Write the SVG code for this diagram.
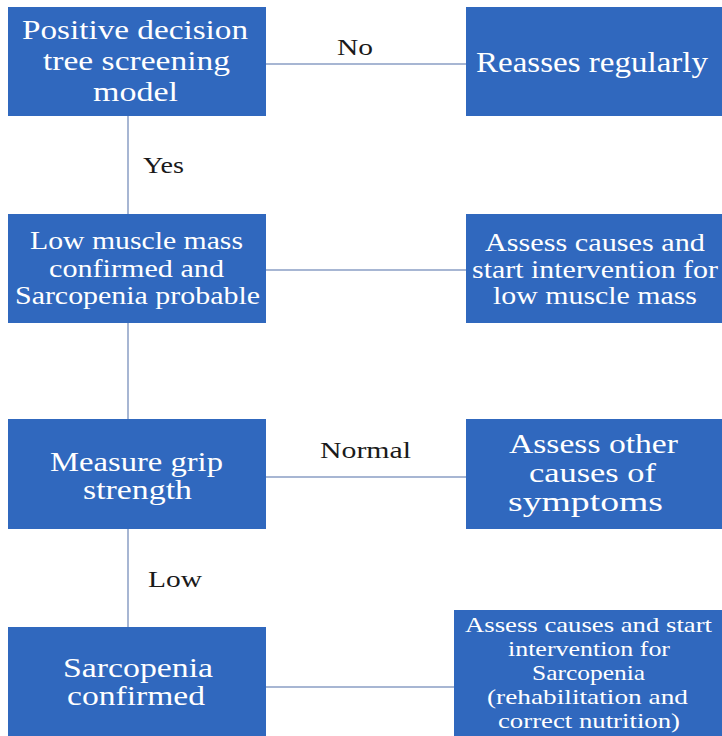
<svg xmlns="http://www.w3.org/2000/svg" width="722" height="736" viewBox="0 0 722 736" font-family="Liberation Serif">
<style>
.box{fill:#3068BE;}
.bt{fill:#FFFFFF;}
.lbl{fill:#1A1A1A;font-size:23px;}
.con{stroke:#8A9EC4;stroke-width:1.5;fill:none;}
</style>
<rect width="722" height="736" fill="#FFFFFF"/>
<g id="connectors">
<line class="con" x1="266" y1="64" x2="466" y2="64"/>
<line class="con" x1="128" y1="116" x2="128" y2="214"/>
<line class="con" x1="266" y1="270" x2="466" y2="270"/>
<line class="con" x1="128" y1="323" x2="128" y2="419"/>
<line class="con" x1="266" y1="477" x2="466" y2="477"/>
<line class="con" x1="128" y1="529" x2="128" y2="627"/>
<line class="con" x1="266" y1="687" x2="454" y2="687"/>
<text class="lbl" x="337" y="55" textLength="36" lengthAdjust="spacingAndGlyphs">No</text>
<text class="lbl" x="143" y="173" textLength="41" lengthAdjust="spacingAndGlyphs">Yes</text>
<text class="lbl" x="320" y="458" textLength="91" lengthAdjust="spacingAndGlyphs">Normal</text>
<text class="lbl" x="148" y="587" textLength="54" lengthAdjust="spacingAndGlyphs">Low</text>
</g>
<g id="n1">
<rect class="box" x="8" y="7" width="258" height="109"/>
<text class="bt" font-size="28"><tspan x="22" y="39" textLength="226" lengthAdjust="spacingAndGlyphs">Positive decision</tspan><tspan x="43" y="70" textLength="187" lengthAdjust="spacingAndGlyphs">tree screening</tspan><tspan x="93" y="101" textLength="85" lengthAdjust="spacingAndGlyphs">model</tspan></text>
</g>
<g id="n2">
<rect class="box" x="466" y="7" width="256" height="109"/>
<text class="bt" font-size="30" x="476" y="72" textLength="232" lengthAdjust="spacingAndGlyphs">Reasses regularly</text>
</g>
<g id="n3">
<rect class="box" x="8" y="214" width="258" height="109"/>
<text class="bt" font-size="25"><tspan x="30" y="249" textLength="213" lengthAdjust="spacingAndGlyphs">Low muscle mass</tspan><tspan x="49" y="277" textLength="175" lengthAdjust="spacingAndGlyphs">confirmed and</tspan><tspan x="15" y="304" textLength="245" lengthAdjust="spacingAndGlyphs">Sarcopenia probable</tspan></text>
</g>
<g id="n4">
<rect class="box" x="466" y="214" width="256" height="109"/>
<text class="bt" font-size="25"><tspan x="485" y="251" textLength="220" lengthAdjust="spacingAndGlyphs">Assess causes and</tspan><tspan x="472" y="278" textLength="246" lengthAdjust="spacingAndGlyphs">start intervention for</tspan><tspan x="493" y="304" textLength="204" lengthAdjust="spacingAndGlyphs">low muscle mass</tspan></text>
</g>
<g id="n5">
<rect class="box" x="8" y="419" width="258" height="110"/>
<text class="bt" font-size="28"><tspan x="50" y="471" textLength="173" lengthAdjust="spacingAndGlyphs">Measure grip</tspan><tspan x="83" y="499" textLength="109" lengthAdjust="spacingAndGlyphs">strength</tspan></text>
</g>
<g id="n6">
<rect class="box" x="466" y="419" width="256" height="110"/>
<text class="bt" font-size="27"><tspan x="509" y="453" textLength="169" lengthAdjust="spacingAndGlyphs">Assess other</tspan><tspan x="529" y="482" textLength="127" lengthAdjust="spacingAndGlyphs">causes of</tspan><tspan x="508" y="511" textLength="155" lengthAdjust="spacingAndGlyphs">symptoms</tspan></text>
</g>
<g id="n7">
<rect class="box" x="8" y="627" width="258" height="109"/>
<text class="bt" font-size="28"><tspan x="63" y="677" textLength="150" lengthAdjust="spacingAndGlyphs">Sarcopenia</tspan><tspan x="67" y="705" textLength="138" lengthAdjust="spacingAndGlyphs">confirmed</tspan></text>
</g>
<g id="n8">
<rect class="box" x="454" y="610" width="268" height="126"/>
<text class="bt" font-size="22"><tspan x="465" y="632" textLength="247" lengthAdjust="spacingAndGlyphs">Assess causes and start</tspan><tspan x="508" y="656" textLength="162" lengthAdjust="spacingAndGlyphs">intervention for</tspan><tspan x="532" y="680" textLength="113" lengthAdjust="spacingAndGlyphs">Sarcopenia</tspan><tspan x="487" y="704" textLength="201" lengthAdjust="spacingAndGlyphs">(rehabilitation and</tspan><tspan x="498" y="728" textLength="182" lengthAdjust="spacingAndGlyphs">correct nutrition)</tspan></text>
</g>
</svg>
